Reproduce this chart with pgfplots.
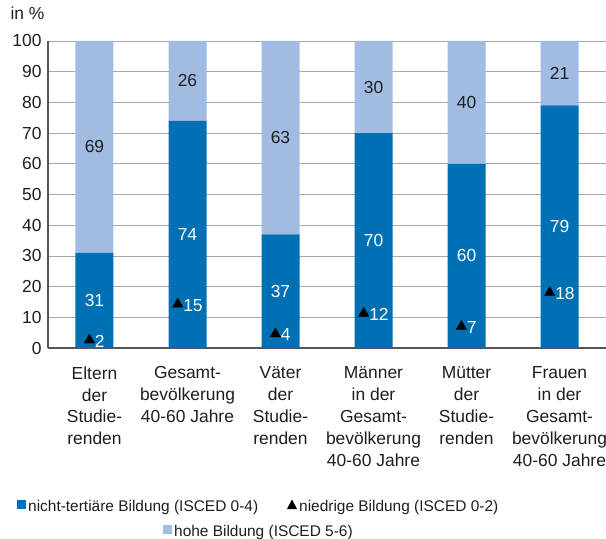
\documentclass[border=0pt]{standalone}
\usepackage{pgfplots}
\pgfplotsset{compat=1.18}
\usepackage{fontspec}
\setmainfont{Liberation Sans}
\definecolor{dunkel}{HTML}{0070B5}
\definecolor{hell}{HTML}{A1BCE3}
\definecolor{txt}{HTML}{1E1E1E}
\definecolor{gridc}{HTML}{A8A8A8}
\definecolor{achse}{HTML}{555555}

\pgfplotsset{
  base/.style={
    scale only axis, width=558bp, height=307bp,
    xmin=-0.5, xmax=5.5, ymin=0, ymax=100,
    clip=false,
  },
}

\begin{document}
\begin{tikzpicture}[font=\fontsize{17.5}{22}\selectfont, text=txt]
\begin{axis}[base, name=ax,
  ybar stacked, bar width=38bp,
  axis lines*=left,
  axis line style={achse, line width=1.3pt},
  ymajorgrids, major grid style={gridc, line width=0.8pt},
  major tick length=0pt,
  ytick={0,10,...,100},
  xtick={0,1,2,3,4,5},
  xticklabels={{Eltern\\der\\Studie-\\renden},
    {Gesamt-\\bevölkerung\\40-60 Jahre},
    {Väter\\der\\Studie-\\renden},
    {Männer\\in der\\Gesamt-\\bevölkerung\\40-60 Jahre},
    {Mütter\\der\\Studie-\\renden},
    {Frauen\\in der\\Gesamt-\\bevölkerung\\40-60 Jahre}},
  xticklabel style={align=center, anchor=north, yshift=-15bp},
  yticklabel style={xshift=-3bp},
  /pgf/number format/assume math mode=true,
  visualization depends on=rawy \as \rawy,
  nodes near coords={\pgfmathprintnumber{\rawy}},
  every node near coord/.append style={anchor=center},
]
\addplot[fill=dunkel, draw=none,
  every node near coord/.append style={text=white}]
  coordinates {(0,31) (1,74) (2,37) (3,70) (4,60) (5,79)};
\addplot[fill=hell, draw=none,
  every node near coord/.append style={text=txt}]
  coordinates {(0,69) (1,26) (2,63) (3,30) (4,40) (5,21)};
\end{axis}

% niedrige Bildung (Dreiecke)
\begin{axis}[base, hide axis,
  /pgf/number format/assume math mode=true,
  point meta=explicit,
  nodes near coords,
  every node near coord/.append style={anchor=west, text=white,
    xshift=2bp, yshift=-1bp},
]
\addplot[only marks, mark=triangle*, mark size=6bp, color=black]
  coordinates {(-0.055,2.6) [2] (0.895,14.3) [15] (1.945,4.6) [4]
    (2.895,11.3) [12] (3.945,7.0) [7] (4.895,18.0) [18]};
\end{axis}

% Legende
\node[anchor=base east] at ([shift={(0bp,21bp)}]ax.north west) {in \%};
\begin{scope}[font=\fontsize{15.5}{22}\selectfont]
\fill[dunkel] ([shift={(-31bp,-152bp)}]ax.south west) rectangle ++(9bp,-9bp);
\node[anchor=base west, inner sep=0pt]
  at ([shift={(-20bp,-163bp)}]ax.south west) {nicht-tertiäre Bildung (ISCED 0-4)};
\fill[black] ([shift={(239bp,-161bp)}]ax.south west) -- ++(10bp,0) -- ++(-5bp,9.5bp) -- cycle;
\node[anchor=base west, inner sep=0pt]
  at ([shift={(251bp,-163bp)}]ax.south west) {niedrige Bildung (ISCED 0-2)};
\fill[hell] ([shift={(115bp,-177bp)}]ax.south west) rectangle ++(9bp,-9bp);
\node[anchor=base west, inner sep=0pt]
  at ([shift={(126bp,-188bp)}]ax.south west) {hohe Bildung (ISCED 5-6)};
\end{scope}

\pgfresetboundingbox
\path ([shift={(-48bp,-191bp)}]ax.south west) rectangle ([shift={(0bp,41bp)}]ax.north east);
\end{tikzpicture}
\end{document}
